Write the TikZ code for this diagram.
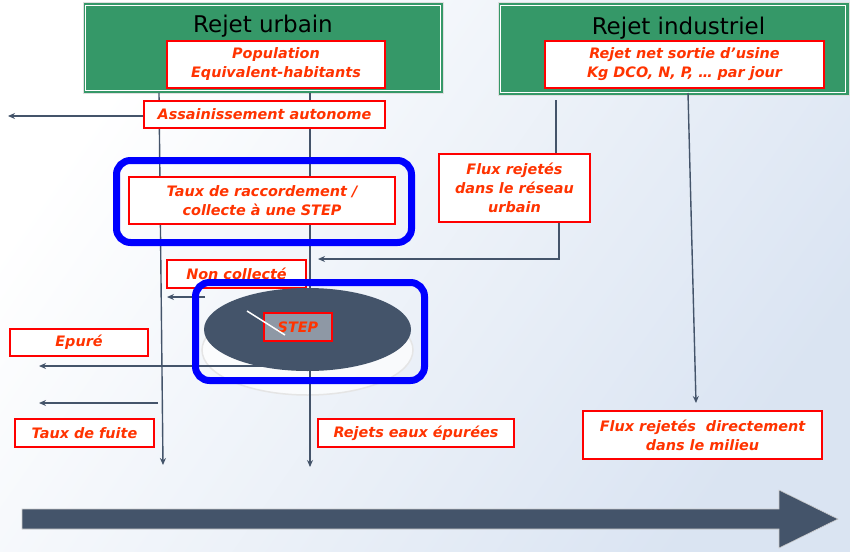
\documentclass[tikz,border=0pt]{standalone}
\usepackage{fontspec}
\setmainfont{DejaVu Sans}
\usetikzlibrary{arrows.meta}
\definecolor{slate}{RGB}{68,84,106}
\definecolor{grn}{RGB}{53,152,104}
\definecolor{txtred}{RGB}{255,51,0}
\definecolor{bgblue}{RGB}{218,228,242}
\definecolor{stepgrey}{RGB}{142,152,165}
\begin{document}
\begin{tikzpicture}[x=1pt,y=-1pt,
  redbox/.style={draw=red, line width=1.8pt, fill=white, text=txtred,
    font=\fontsize{14.4}{19}\selectfont\bfseries\itshape, align=center, inner sep=0pt},
  flow/.style={draw=slate, line width=1.4pt, -{Stealth[length=7pt,width=6pt]}},
  plain/.style={draw=slate, line width=1.4pt},
  bluebox/.style={draw=blue, line width=7pt, rounded corners=14pt},
  greenbox/.style={fill=grn, draw=gray!25, line width=1pt, inner sep=0pt},
  titletext/.style={font=\fontsize{23}{27}\selectfont, text=black, anchor=base}]

\useasboundingbox (0,0) rectangle (850,551);
\begin{scope}[y=1pt]
  \shade[top color=white, bottom color=bgblue, shading angle=55] (0,-551) rectangle (850,0);
\end{scope}

% green header boxes
\node[greenbox, minimum width=360pt, minimum height=90pt] (gu) at (263,48) {};
\draw[white, line width=1.2pt] (85.5,5.5) rectangle (440.5,90.5);
\node[greenbox, minimum width=351pt, minimum height=92pt] (gi) at (673.5,49) {};
\draw[white, line width=1.2pt] (500.5,5.5) rectangle (845.5,92.5);
\node[titletext] (tu) at (263,33) {Rejet urbain};
\node[titletext] (ti) at (678.5,35) {Rejet industriel};

\node[redbox, minimum width=218pt, minimum height=47pt] (pop) at (276,64.5)
  {Population\\Equivalent-habitants};
\node[redbox, minimum width=279pt, minimum height=47pt] (rnet) at (684.5,64.5)
  {Rejet net sortie d’usine\\Kg DCO, N, P, … par jour};

% coordinates for flows
\coordinate (lutop) at (159,93);
\coordinate (lubot) at (163,465);
\coordinate (rutop) at (310,93);
\coordinate (rubot) at (310,467);
\coordinate (iltop) at (556,100);
\coordinate (iltop2) at (556,153);
\coordinate (ilbend) at (559,259);
\coordinate (iltip) at (318,259);
\coordinate (irtop) at (688,93);
\coordinate (irbot) at (696,403);
\coordinate (aswest) at (8,116);
\coordinate (nctail) at (205,297);
\coordinate (nctip) at (167,297);
\coordinate (eptail) at (300,366);
\coordinate (eptip) at (39,366);
\coordinate (ftail) at (158,403);
\coordinate (ftip) at (39,403);

% shadow of STEP
\draw[gray!20, line width=1.5pt, fill=white, fill opacity=0.7] (307.5,350) ellipse [x radius=105.5, y radius=45];

% main flow lines
\draw[flow] (lutop) -- (lubot);
\draw[flow] (rutop) -- (rubot);
\draw[flow] (irtop) -- (irbot);
\draw[plain] (iltop) -- (iltop2);

\node[redbox, minimum width=241pt, minimum height=27pt] (assain) at (264.5,114.5)
  {Assainissement autonome};
\draw[flow] (assain.west |- aswest) -- (aswest);

\node[redbox, minimum width=266pt, minimum height=47pt] (taux) at (262,200.5)
  {Taux de raccordement /\\collecte à une STEP};
\node[redbox, minimum width=151pt, minimum height=68pt] (fluxres) at (514.5,188)
  {Flux rejetés\\dans le réseau\\urbain};
\draw[flow] (fluxres.south -| ilbend) -- (ilbend) -- (iltip);

\node[redbox, minimum width=139pt, minimum height=28pt] (noncol) at (236.5,274)
  {Non collecté};
\draw[flow] (nctail) -- (nctip);

\draw[flow] (eptail) -- (eptip);
\draw[flow] (ftail) -- (ftip);

\node[redbox, minimum width=138pt, minimum height=27pt] (epure) at (79,342.5) {Epuré};
\node[redbox, minimum width=139pt, minimum height=28pt] (fuite) at (84.5,433) {Taux de fuite};
\node[redbox, minimum width=196pt, minimum height=28pt] (rejeaux) at (416,433) {Rejets eaux épurées};
\node[redbox, minimum width=239pt, minimum height=48pt] (fluxdir) at (702.5,435)
  {Flux rejetés\ \ directement\\dans le milieu};

% STEP
\fill[slate] (307.5,329.5) ellipse [x radius=103.5, y radius=41.5];
\node[redbox, fill=stepgrey, minimum width=68pt, minimum height=28pt] (step) at (298,327) {STEP};
\draw[white, line width=1.5pt] (247,311) -- (285,335);

% blue highlight frames
\draw[bluebox] (116.5,160.5) rectangle (411.5,242.5);
\draw[bluebox] (195.5,282.5) rectangle (424.5,380.5);

% bottom big arrow
\fill[slate, draw=gray!40, line width=0.6pt] (22,509) -- (779,509) -- (779,490) -- (838,519)
  -- (779,548) -- (779,529) -- (22,529) -- cycle;
\end{tikzpicture}
\end{document}
